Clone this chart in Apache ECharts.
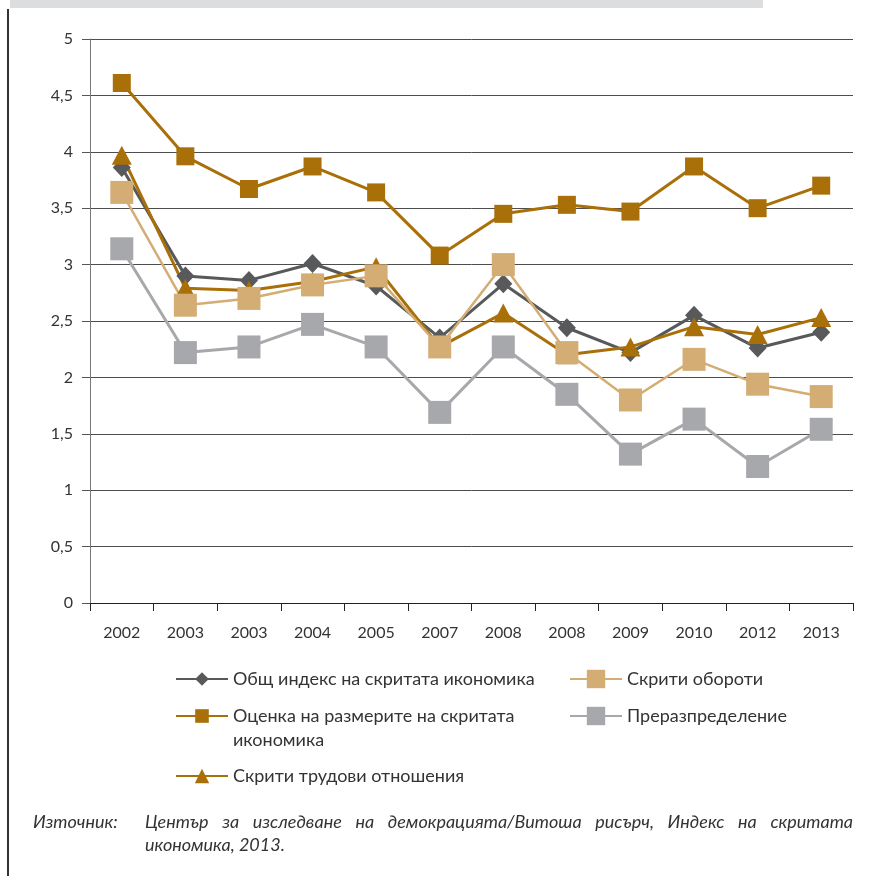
<!DOCTYPE html>
<html>
<head>
<meta charset="utf-8">
<script src="https://cdn.jsdelivr.net/npm/echarts@6/dist/echarts.min.js"></script>
<style>
  html, body { margin: 0; padding: 0; background: #fff; }
  #chart { width: 881px; height: 876px; }
</style>
</head>
<body>
<div id="chart"></div>
<script>
// Years on the horizontal axis (two surveys in 2003 and 2008)
const years = ['2002', '2003', '2003', '2004', '2005', '2007', '2008', '2008', '2009', '2010', '2012', '2013'];

// Index values per series
const overallIndex   = [3.86, 2.90, 2.86, 3.01, 2.81, 2.35, 2.83, 2.44, 2.22, 2.55, 2.26, 2.40];
const sizeEstimate   = [4.61, 3.96, 3.67, 3.87, 3.64, 3.08, 3.45, 3.53, 3.47, 3.87, 3.50, 3.70];
const hiddenLabour   = [3.97, 2.79, 2.77, 2.85, 2.98, 2.27, 2.57, 2.20, 2.27, 2.45, 2.38, 2.53];
const hiddenTurnover = [3.64, 2.64, 2.70, 2.82, 2.90, 2.27, 3.00, 2.22, 1.80, 2.16, 1.94, 1.83];
const redistribution = [3.14, 2.22, 2.27, 2.47, 2.27, 1.69, 2.27, 1.85, 1.32, 1.63, 1.21, 1.54];

const names = [
  'Общ индекс на скритата икономика',
  'Оценка на размерите на скритата икономика',
  'Скрити трудови отношения',
  'Скрити обороти',
  'Преразпределение'
];

const sourceLabel = 'Източник:';
const sourceLines = [
  'Център за изследване на демокрацията/Витоша рисърч, Индекс на скритата',
  'икономика, 2013.'
];

const FONT = 'Lato, "Open Sans", "Noto Sans", sans-serif';
const TEXT = '#333333';

const chart = echarts.init(document.getElementById('chart'), null, { renderer: 'canvas' });

function lineSeries(name, data, color, symbol, size, width) {
  return {
    name: name,
    type: 'line',
    data: data,
    symbol: symbol,
    symbolSize: size,
    showAllSymbol: true,
    lineStyle: { color: color, width: width },
    itemStyle: { color: color },
    emphasis: { disabled: true },
    animation: false
  };
}

// One legend block per entry so that each can sit in its own slot
function legendAt(name, left, centerY, itemHeight, multiline) {
  const lh = 24;
  const boxH = multiline ? 3 * lh : Math.max(itemHeight, lh);
  return {
    data: [name],
    left: left,
    top: centerY - boxH / 2,
    padding: 0,
    orient: 'horizontal',
    itemWidth: 52,
    itemHeight: itemHeight,
    itemGap: 10,
    selectedMode: false,
    // leading blank line keeps the first text line level with the icon
    formatter: multiline ? '\nОценка на размерите на скритата\nикономика' : '{name}',
    textStyle: {
      fontFamily: FONT,
      fontSize: 18,
      color: TEXT,
      lineHeight: lh
    }
  };
}

// Justified source note: spread the words of a line across a given width
const measureCtx = document.createElement('canvas').getContext('2d');
const noteFont = 'italic 18px ' + FONT;
measureCtx.font = noteFont;

function noteText(text, left, top) {
  return { type: 'text', left: left, top: top, silent: true,
    style: { text: text, fontFamily: FONT, fontStyle: 'italic', fontSize: 18, lineHeight: 23, fill: TEXT } };
}

function justifiedLine(text, left, width, top) {
  const words = text.split(' ');
  const widths = words.map(w => measureCtx.measureText(w).width);
  const total = widths.reduce((a, b) => a + b, 0);
  const gap = (width - total) / (words.length - 1);
  const out = [];
  let x = left;
  words.forEach((w, i) => {
    out.push(noteText(w, x, top));
    x += widths[i] + gap;
  });
  return out;
}

const noteGraphics = [noteText(sourceLabel, 33, 811)]
  .concat(justifiedLine(sourceLines[0], 145, 708, 811))
  .concat([noteText(sourceLines[1], 145, 834)]);

const option = {
  backgroundColor: '#ffffff',
  animation: false,
  grid: { left: 90, right: 28, top: 39, bottom: 273, containLabel: false },
  xAxis: {
    type: 'category',
    data: years,
    boundaryGap: true,
    axisLine: { show: true, lineStyle: { color: '#222', width: 1 } },
    axisTick: { show: true, length: 8, interval: 0, alignWithLabel: false, lineStyle: { color: '#222' } },
    axisLabel: { interval: 0, margin: 22, fontFamily: FONT, fontSize: 16, color: TEXT }
  },
  yAxis: {
    type: 'value',
    min: 0,
    max: 5,
    interval: 0.5,
    axisLine: { show: true, lineStyle: { color: '#777', width: 1 } },
    axisTick: { show: true, length: 8, lineStyle: { color: '#555' } },
    axisLabel: {
      margin: 17,
      fontFamily: FONT,
      fontSize: 16,
      color: TEXT,
      formatter: v => String(v).replace('.', ',')
    },
    splitLine: { show: true, lineStyle: { color: '#4d4d4d', width: 1 } }
  },
  legend: [
    legendAt(names[0], 175, 679, 17, false),
    legendAt(names[1], 175, 716, 17, true),
    legendAt(names[2], 175, 776, 18, false),
    legendAt(names[3], 569, 679, 23, false),
    legendAt(names[4], 569, 716, 23, false)
  ],
  series: [
    lineSeries(names[0], overallIndex, '#58595b', 'diamond', [18, 19], 3),
    lineSeries(names[1], sizeEstimate, '#a96f08', 'rect', 18, 3),
    lineSeries(names[2], hiddenLabour, '#a96f08', 'triangle', [20, 19], 3),
    lineSeries(names[3], hiddenTurnover, '#d4ad74', 'rect', 23, 2.5),
    lineSeries(names[4], redistribution, '#a7a8ab', 'rect', 23, 3)
  ],
  graphic: [
    // page frame: grey band on top and dark rule on the left
    { type: 'rect', left: 10, top: 0, shape: { width: 753, height: 8 }, style: { fill: '#dcddde' }, silent: true },
    { type: 'rect', left: 7, top: 9, shape: { width: 2, height: 867 }, style: { fill: '#333' }, silent: true }
  ].concat(noteGraphics)
};

chart.setOption(option);
</script>
</body>
</html>
